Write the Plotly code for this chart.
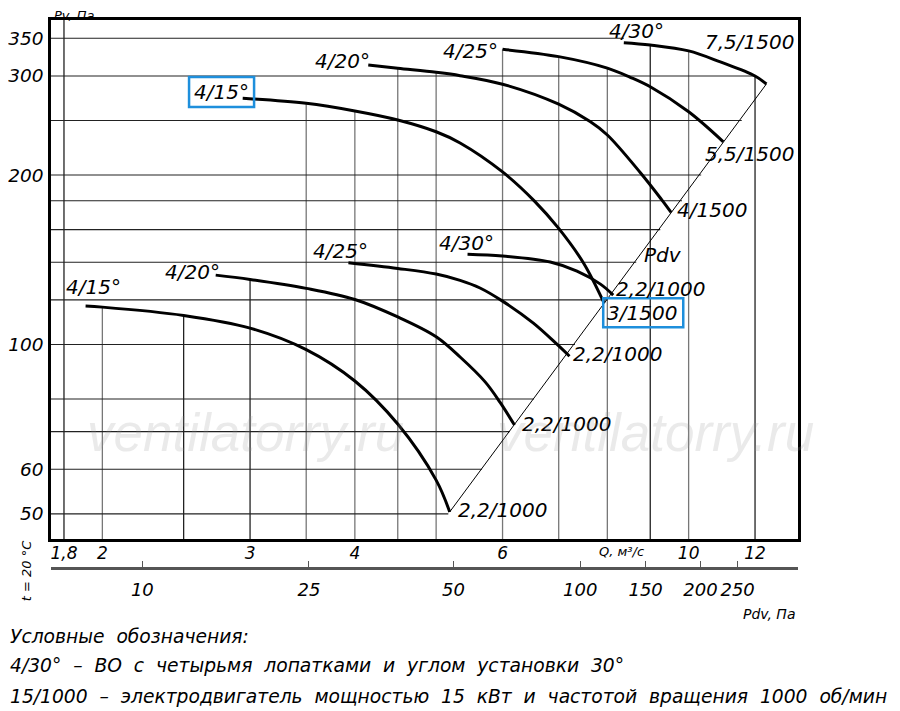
import plotly.graph_objects as go

# Pv (Pa) against Q (m3/s)
L15_Q = [1.91, 2.0, 2.5, 3.0, 3.5, 4.0, 4.5, 5.0, 5.19]
L15_P = [117.0, 116.5, 112.6, 106.9, 97.9, 86.1, 72.2, 57.4, 50.4]
L20_Q = [2.73, 3.0, 3.5, 4.0, 4.5, 5.0, 5.34, 5.72, 5.96, 6.2]
L20_P = [132.8, 130.5, 125.8, 120.2, 111.9, 103.2, 95.0, 85.8, 78.9, 71.9]
L25_Q = [3.93, 4.5, 5.0, 5.34, 5.64, 6.0, 6.53, 6.97, 7.21]
L25_P = [139.7, 136.5, 133.4, 130.0, 126.0, 119.4, 109.1, 100.0, 95.3]
L30_Q = [5.45, 6.0, 6.84, 7.36, 7.85, 8.13]
L30_P = [144.7, 143.6, 140.1, 135.0, 128.0, 122.4]
U15_Q = [2.94, 3.5, 4.0, 4.5, 5.0, 5.34, 6.0, 6.55, 7.0, 7.49, 7.93]
U15_P = [273.8, 268.3, 260.0, 250.6, 238.8, 228.1, 202.6, 179.8, 160.8, 139.7, 118.4]
U20_Q = [4.15, 4.5, 5.0, 5.34, 6.0, 7.0, 7.63, 8.0, 8.76, 9.29, 9.53]
U20_P = [313.8, 309.6, 304.5, 300.4, 290.1, 267.3, 248.9, 235.6, 201.9, 180.7, 171.7]
U25_Q = [6.0, 7.0, 8.0, 8.52, 9.0, 10.0, 11.0]
U25_P = [334.6, 324.7, 309.8, 298.4, 287.0, 259.1, 229.1]
U30_Q = [8.37, 9.0, 10.0, 10.91, 12.0, 12.38]
U30_P = [343.8, 340.6, 332.4, 317.7, 300.0, 290.3]
PDV_Q = [5.19, 12.38]
PDV_P = [50.4, 290.3]

# grid: vertical lines run up to the curves, horizontal ones end at the Pdv line
V_GRID_Q = [1.8, 2, 2.5, 3, 3.5, 4, 4.5, 5, 6, 7, 8, 9, 10, 12]
V_GRID_TOP = [400, 116.5, 112.6, 130.5, 268.3, 260.0, 309.6, 304.5, 334.6, 324.7, 309.8, 340.6, 332.4, 300.0]
H_GRID_P = [50, 60, 70, 80, 100, 120, 140, 160, 180, 200, 250, 300, 350]
H_GRID_END = [5.17, 5.67, 6.12, 6.54, 7.32, 8.01, 8.66, 9.25, 9.82, 10.35, 11.57, 12.0, 8.37]

Q_TICKS = [1.8, 2, 3, 4, 6, 10, 12]
Q_TICK_TEXT = ['1,8', '2', '3', '4', '6', '10', '12']
P_TICKS = [50, 60, 100, 200, 300, 350]
PDV_TICK_Q = [2.232, 3.526, 5.244, 7.425, 8.886, 10.33, 11.44]
PDV_TICK_TEXT = ['10', '25', '50', '100', '150', '200', '250']

FONT = "DejaVu Sans"
DARK_V = {1.8, 2.5, 3, 9, 12}

# plot area in page pixels (the page body adds 8 px around the figure)
OFF = 8
L, R, T, B = 51, 797.7, 20, 567.7
B_MAIN = 538.7


def px(x):
    return (x - L) / (R - L)


def py(y):
    return (B - y) / (B - T)


fig = go.Figure()

for dark in (False, True):
    xs, ys = [], []
    for q, top in zip(V_GRID_Q, V_GRID_TOP):
        if (q in DARK_V) == dark:
            xs += [q, q, None]
            ys += [40, top, None]
    fig.add_trace(go.Scatter(x=xs, y=ys, mode='lines', hoverinfo='skip',
                             line=dict(color='#222' if dark else '#777', width=1.3)))

hx, hy = [], []
for p, end in zip(H_GRID_P, H_GRID_END):
    hx += [1.7, end, None]
    hy += [p, p, None]
fig.add_trace(go.Scatter(x=hx, y=hy, mode='lines', hoverinfo='skip',
                         line=dict(color='#222', width=1.1)))

# the Pdv line sits on the second (Pdv) axis, which shares the Q scale
fig.add_trace(go.Scatter(x=PDV_Q, y=PDV_P, mode='lines', hoverinfo='skip', xaxis='x2',
                         line=dict(color='black', width=1)))

for q, p in [(L15_Q, L15_P), (L20_Q, L20_P), (L25_Q, L25_P), (L30_Q, L30_P),
             (U15_Q, U15_P), (U20_Q, U20_P), (U25_Q, U25_P), (U30_Q, U30_P)]:
    fig.add_trace(go.Scatter(x=q, y=p, mode='lines',
                             line=dict(color='black', width=3, shape='spline', smoothing=1.0)))

# curve labels
labels = [
    ('4/15°', 93, 287), ('4/20°', 192, 272), ('4/25°', 340, 251), ('4/30°', 466, 243),
    ('4/15°', 221, 92), ('4/20°', 342, 61), ('4/25°', 470, 51), ('4/30°', 636, 31),
    ('7,5/1500', 749, 42), ('5,5/1500', 749, 154), ('4/1500', 712, 210), ('Pdv', 663, 255),
    ('2,2/1000', 660, 289), ('3/1500', 642, 313), ('2,2/1000', 617, 354),
    ('2,2/1000', 566, 424), ('2,2/1000', 502, 510),
]
ann = []
for text, x, y in labels:
    ann.append(dict(text=text, x=px(x), y=py(y), xref='paper', yref='paper', showarrow=False,
                    xanchor='center', yanchor='middle',
                    font=dict(family=FONT, size=20, style='italic', color='black')))

# axis captions
small = [('Pv, Па', 74, 16, 13), ('Q, м³/с', 621, 551, 13), ('Pdv, Па', 769, 614, 14)]
for text, x, y, s in small:
    ann.append(dict(text=text, x=px(x), y=py(y), xref='paper', yref='paper', showarrow=False,
                    xanchor='center', yanchor='middle', borderpad=0,
                    font=dict(family=FONT, size=s, style='italic', color='black')))
ann.append(dict(text='t = 20 °C', x=px(26), y=py(570), xref='paper', yref='paper', showarrow=False,
                textangle=-90, xanchor='center', yanchor='middle',
                font=dict(family=FONT, size=13, style='italic', color='black')))

for x in (245, 655):
    ann.append(dict(text='ventilatorry.ru', x=px(x), y=py(432), xref='paper', yref='paper',
                    showarrow=False, xanchor='center', yanchor='middle',
                    font=dict(family='Liberation Sans', size=53, style='italic',
                              color='rgba(150,150,150,0.2)')))

notes = [
    ('Условные  обозначения:', 636),
    ('4/30°  –  ВО  с  четырьмя  лопатками  и  углом  установки  30°', 665),
    ('15/1000  –  электродвигатель  мощностью  15  кВт  и  частотой  вращения  1000  об/мин', 696),
]
for text, y in notes:
    ann.append(dict(text=text.replace('  ', ' \u00a0'), x=px(8), y=py(y), xref='paper', yref='paper',
                    showarrow=False, xanchor='left', yanchor='middle',
                    font=dict(family=FONT, size=18.7, style='italic', color='black')))

boxes = [(189, 77, 254, 107), (603, 298, 683, 327)]
shapes = [dict(type='rect', xref='paper', yref='paper', x0=px(a), x1=px(c), y0=py(d), y1=py(b),
               line=dict(color='#1E8FDC', width=2.5)) for a, b, c, d in boxes]

fig.update_layout(
    width=900 - OFF, height=711 - OFF, autosize=False,
    margin=dict(l=L - OFF, r=900 - R, t=T - OFF, b=711 - B, pad=0),
    paper_bgcolor='white', plot_bgcolor='white',
    showlegend=False,
    xaxis=dict(type='log', range=[0.2398, 1.1304], showgrid=False, zeroline=False, automargin=False,
               showline=True, mirror=True, linecolor='black', linewidth=2.5, ticks='', ticklen=0,
               tickvals=Q_TICKS, ticktext=Q_TICK_TEXT, ticklabelstandoff=-3,
               tickfont=dict(family=FONT, size=17, style='italic', color='black')),
    xaxis2=dict(type='log', range=[0.2398, 1.1304], overlaying='x', anchor='free', position=0,
                showgrid=False, zeroline=False, automargin=False,
                showline=True, linecolor='#555', linewidth=2.5,
                ticks='inside', ticklen=6, tickwidth=1.3, tickcolor='#555',
                tickvals=PDV_TICK_Q, ticktext=PDV_TICK_TEXT, ticklabelstandoff=5,
                tickfont=dict(family=FONT, size=18, style='italic', color='black')),
    yaxis=dict(type='log', range=[1.6543, 2.5766], domain=[(B - B_MAIN) / (B - T), 1],
               showgrid=False, zeroline=False, automargin=False, showline=True, mirror=True,
               linecolor='black', linewidth=2.5, ticks='', ticklen=0, tickvals=P_TICKS,
               ticktext=[str(v) for v in P_TICKS], ticklabelstandoff=1,
               tickfont=dict(family=FONT, size=18.5, style='italic', color='black')),
    annotations=ann,
    shapes=shapes,
)

fig.write_html("out.html")
